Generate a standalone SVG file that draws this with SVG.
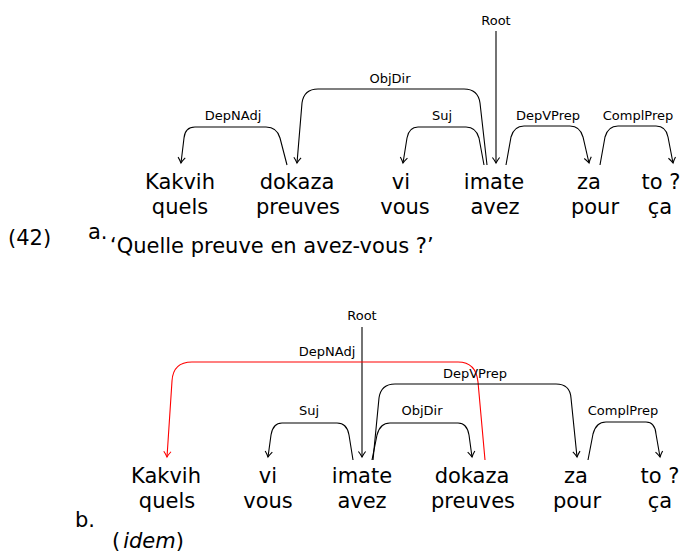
<svg xmlns="http://www.w3.org/2000/svg" width="694" height="555" viewBox="0 0 694 555">
<style>
.w{font-family:"DejaVu Sans",sans-serif;font-size:21px;fill:#000;text-anchor:middle}
.t{font-family:"DejaVu Sans",sans-serif;font-size:21px;fill:#000}
.l{font-family:"DejaVu Sans",sans-serif;font-size:13px;fill:#000;text-anchor:middle}
.a{fill:none;stroke:#000;stroke-width:1.1;marker-end:url(#ah)}
.r{fill:none;stroke:#f00;stroke-width:1.1;marker-end:url(#ahr)}
</style>
<defs>
<marker id="ah" markerUnits="userSpaceOnUse" viewBox="-7 -5 8 10" refX="0" refY="0" markerWidth="8" markerHeight="10" orient="auto" overflow="visible">
<path d="M-5.5,-3.6 C-3,-1.6 -1,-0.5 0,0 C-1,0.5 -3,1.6 -5.5,3.6" fill="none" stroke="#000" stroke-width="1.1"/>
</marker>
<marker id="ahr" markerUnits="userSpaceOnUse" viewBox="-7 -5 8 10" refX="0" refY="0" markerWidth="8" markerHeight="10" orient="auto" overflow="visible">
<path d="M-5.5,-3.6 C-3,-1.6 -1,-0.5 0,0 C-1,0.5 -3,1.6 -5.5,3.6" fill="none" stroke="#f00" stroke-width="1.1"/>
</marker>
</defs>

<text class="t" x="8" y="245">(42)</text>
<text class="t" x="88" y="239">a.</text>
<text class="t" x="110" y="253">‘Quelle preuve en avez-vous ?’</text>

<g id="a-kakvih"><text class="w" x="180" y="189">Kakvih</text><text class="w" x="180" y="214">quels</text></g>
<g id="a-dokaza"><text class="w" x="297" y="189">dokaza</text><text class="w" x="298" y="214">preuves</text></g>
<g id="a-vi"><text class="w" x="401" y="189">vi</text><text class="w" x="405" y="214">vous</text></g>
<g id="a-imate"><text class="w" x="494" y="189">imate</text><text class="w" x="495" y="214">avez</text></g>
<g id="a-za"><text class="w" x="589" y="189">za</text><text class="w" x="595" y="214">pour</text></g>
<g id="a-to"><text class="w" x="661" y="189">to ?</text><text class="w" x="660" y="214">ça</text></g>

<g id="a-connectors">
<path class="a" d="M496,31 L496,163"/>
<text class="l" x="496" y="25">Root</text>
<path class="a" d="M287,165 L280,138 Q277,127 266,127 L195,127 Q185,127 184,138 L181,163"/>
<text class="l" x="233" y="120">DepNAdj</text>
<path class="a" d="M487,165 L480,103 Q478,89 464,89 L318,89 Q304,89 302,103 L297,163"/>
<text class="l" x="390" y="83">ObjDir</text>
<path class="a" d="M484,165 L479,138 Q476,127 466,127 L418,127 Q409,127 407,138 L403,163"/>
<text class="l" x="442" y="120">Suj</text>
<path class="a" d="M506,165 L511,137 Q514,126 524,126 L570,126 Q580,126 583,137 L589,163"/>
<text class="l" x="548" y="120">DepVPrep</text>
<path class="a" d="M600,165 L605,137 Q608,126 618,126 L656,126 Q666,126 668,137 L673,163"/>
<text class="l" x="638" y="120">ComplPrep</text>
</g>

<text class="t" x="75" y="527">b.</text>
<text class="t" x="112" y="548">(<tspan font-style="italic" dx="3">idem</tspan>)</text>

<g id="b-kakvih"><text class="w" x="166" y="483">Kakvih</text><text class="w" x="167" y="508">quels</text></g>
<g id="b-vi"><text class="w" x="268" y="483">vi</text><text class="w" x="268" y="508">vous</text></g>
<g id="b-imate"><text class="w" x="362" y="483">imate</text><text class="w" x="362" y="508">avez</text></g>
<g id="b-dokaza"><text class="w" x="472" y="483">dokaza</text><text class="w" x="473" y="508">preuves</text></g>
<g id="b-za"><text class="w" x="576" y="483">za</text><text class="w" x="577" y="508">pour</text></g>
<g id="b-to"><text class="w" x="660" y="483">to ?</text><text class="w" x="660" y="508">ça</text></g>

<g id="b-connectors">
<path class="a" d="M362,327 L362,457"/>
<text class="l" x="362" y="320">Root</text>
<path class="r" d="M485,460 L478,382 Q476,362 458,362 L192,362 Q173,362 172,381 L167,457"/>
<text class="l" x="327" y="356">DepNAdj</text>
<path class="a" d="M373,460 L379,398 Q381,384 395,384 L556,384 Q570,384 571,398 L577,457"/>
<text class="l" x="475" y="378">DepVPrep</text>
<path class="a" d="M372,460 L377,435 Q380,423 390,423 L458,423 Q467,423 469,435 L472,457"/>
<text class="l" x="422" y="415">ObjDir</text>
<path class="a" d="M353,460 L349,435 Q347,423 337,423 L282,423 Q273,423 271,435 L268,457"/>
<text class="l" x="309" y="415">Suj</text>
<path class="a" d="M588,460 L593,434 Q596,422 606,422 L646,422 Q655,422 656,434 L660,457"/>
<text class="l" x="623" y="415">ComplPrep</text>
</g>
</svg>
